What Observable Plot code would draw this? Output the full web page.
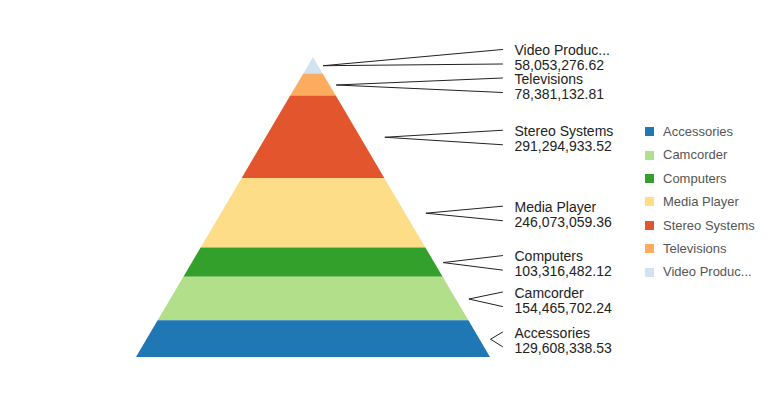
<!DOCTYPE html>
<html>
<head>
<meta charset="utf-8">
<script src="https://cdn.jsdelivr.net/npm/d3@7"></script>
<script src="https://cdn.jsdelivr.net/npm/@observablehq/plot@0.6"></script>
<style>
  html, body { margin: 0; padding: 0; background: #fff; }
  #wrap { position: relative; width: 768px; height: 403px; overflow: hidden; }
  #legend { position: absolute; left: 645px; top: 120px; font-family: "Liberation Sans", Arial, sans-serif; font-size: 13px; color: #555; }
  #legend .row { height: 23.4px; line-height: 23.4px; display: flex; align-items: center; white-space: nowrap; }
  #legend .sw { width: 9px; height: 9px; margin-right: 9px; flex: none; }
</style>
</head>
<body>
<div id="wrap"><div id="chart"></div><div id="legend"></div></div>
<script>
const categories = ["Accessories", "Camcorder", "Computers", "Media Player", "Stereo Systems", "Televisions", "Video Production"];
const values = [129608338.53, 154465702.24, 103316482.12, 246073059.36, 291294933.52, 78381132.81, 58053276.62];
const colors = ["#1f77b4", "#b2df8a", "#33a02c", "#fedd88", "#e3552d", "#fdab5e", "#d0e3ef"];

const W = 768, H = 403, mT = 57, mB = 46, mL = 136, mR = 278;
const halfBasePx = (W - mL - mR) / 2;
const T = d3.sum(values);
const pxPerUnit = (H - mT - mB) / T;
const fmt = d3.format(",.2f");
const short = s => s.length > 14 ? s.slice(0, 12) + "..." : s;

// stack top -> bottom (last category at the apex)
const order = d3.range(categories.length).reverse();
let acc = 0;
const layers = order.map(i => {
  const c0 = acc; acc += values[i];
  return {cat: categories[i], value: values[i], c0, c1: acc, mid: (c0 + acc) / 2};
});

const areaData = layers.flatMap(l => [
  {cat: l.cat, y: l.c0, x1: -l.c0 / T, x2: l.c0 / T},
  {cat: l.cat, y: l.c1, x1: -l.c1 / T, x2: l.c1 / T}
]);

// label positions with collision avoidance (bottom-up)
const gap = 28.5 / pxPerUnit;
const labY = layers.map(l => l.mid);
for (let i = layers.length - 2; i >= 0; i--) {
  if (labY[i] > labY[i + 1] - gap) labY[i] = labY[i + 1] - gap;
}
const lineEndX = 1 + 12 / halfBasePx;
const textX = 1 + 24 / halfBasePx;
const off1 = 7 / pxPerUnit, off2 = 7.5 / pxPerUnit;
const leaders = layers.flatMap((l, k) => [
  {cat: l.cat, x: lineEndX, y: labY[k] - off1},
  {cat: l.cat, x: l.c1 / T, y: l.mid},
  {cat: l.cat, x: lineEndX, y: labY[k] + off2}
]);
const labels = layers.map((l, k) => ({y: labY[k], text: short(l.cat) + "\n" + fmt(l.value)}));

const chart = Plot.plot({
  width: W, height: H,
  marginTop: mT, marginBottom: mB, marginLeft: mL, marginRight: mR,
  style: {fontFamily: "'Liberation Sans', Arial, sans-serif", background: "#fff"},
  x: {domain: [-1, 1], axis: null},
  y: {domain: [0, T], reverse: true, axis: null},
  color: {domain: categories, range: colors},
  marks: [
    Plot.areaX(areaData, {y: "y", x1: "x1", x2: "x2", z: "cat", fill: "cat", curve: "linear"}),
    Plot.line(leaders, {x: "x", y: "y", z: "cat", stroke: "#222", strokeWidth: 1, curve: "linear"}),
    Plot.text(labels, {x: () => textX, y: "y", text: "text", textAnchor: "start", lineAnchor: "middle", fontSize: 14, lineHeight: 1.07, dy: 1.5, fill: "#222"})
  ]
});
document.getElementById("chart").appendChild(chart);

const legend = d3.select("#legend");
categories.forEach((c, i) => {
  const row = legend.append("div").attr("class", "row");
  row.append("div").attr("class", "sw").style("background", colors[i]);
  row.append("span").text(short(c));
});
</script>
</body>
</html>
